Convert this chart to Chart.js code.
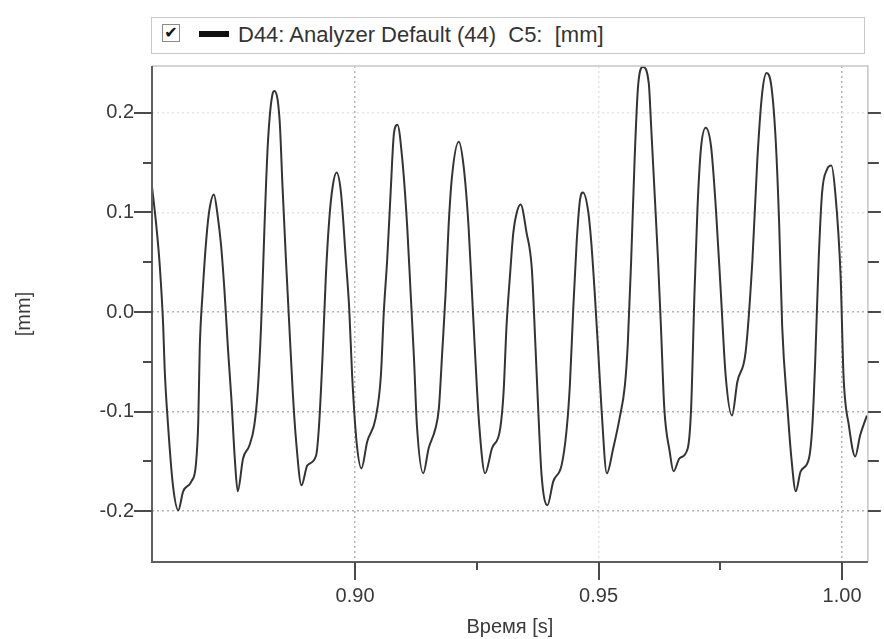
<!DOCTYPE html>
<html>
<head>
<meta charset="utf-8">
<title>D44: Analyzer Default (44) C5</title>
<script src="https://cdn.jsdelivr.net/npm/chart.js@4.4.1/dist/chart.umd.min.js"></script>
<style>
  html, body { margin: 0; padding: 0; background: #fff; }
  #wrap { position: relative; width: 884px; height: 639px; overflow: hidden; }
  #chart { position: absolute; left: 0; top: 0; }
  .legend-box {
    position: absolute; left: 151px; top: 17px; width: 712px; height: 35px;
    border: 1px solid #c9c9c9; background: #fff;
    font-family: "Liberation Sans", Arial, sans-serif; font-size: 22px; color: #333;
  }
  .legend-check {
    position: absolute; left: 10px; top: 6px; width: 16px; height: 16px;
    border: 1px solid #8a8a8a; background: #fff;
    font-family: "DejaVu Sans", sans-serif; font-size: 16px; font-weight: bold; line-height: 16px;
    text-align: center; color: #111;
  }
  .legend-swatch { position: absolute; left: 47px; top: 13px; width: 30px; height: 6px; background: #111; }
  .legend-text { position: absolute; left: 86px; top: 4px; white-space: pre; }
</style>
</head>
<body>
<div id="wrap">
  <canvas id="chart" width="884" height="639"></canvas>
  <div class="legend-box">
    <div class="legend-check">&#10004;</div>
    <div class="legend-swatch"></div>
    <div class="legend-text">D44: Analyzer Default (44)  C5:  [mm]</div>
  </div>
</div>
<script>
// Time axis [s] and displacement [mm]
const timeS = [
  0.8583, 0.8592, 0.8599, 0.8606, 0.8609, 0.8616, 0.8626, 0.8637, 0.8647, 0.8664,
  0.8673, 0.8678, 0.8681, 0.8687, 0.8695, 0.8701, 0.8710, 0.8718, 0.8725, 0.8732,
  0.8739, 0.8746, 0.8753, 0.8759, 0.8770, 0.8783, 0.8793, 0.8800, 0.8807, 0.8814,
  0.8821, 0.8831, 0.8834, 0.8845, 0.8851, 0.8858, 0.8865, 0.8872, 0.8879, 0.8890,
  0.8902, 0.8920, 0.8926, 0.8933, 0.8940, 0.8947, 0.8954, 0.8962, 0.8971, 0.8981,
  0.8988, 0.8994, 0.9003, 0.9013, 0.9025, 0.9042, 0.9053, 0.9059, 0.9066, 0.9073,
  0.9080, 0.9087, 0.9097, 0.9107, 0.9114, 0.9121, 0.9127, 0.9140, 0.9151, 0.9165,
  0.9172, 0.9179, 0.9186, 0.9192, 0.9199, 0.9213, 0.9223, 0.9233, 0.9240, 0.9247,
  0.9255, 0.9267, 0.9281, 0.9298, 0.9305, 0.9311, 0.9318, 0.9325, 0.9332, 0.9340,
  0.9352, 0.9363, 0.9370, 0.9376, 0.9383, 0.9395, 0.9407, 0.9424, 0.9434, 0.9441,
  0.9448, 0.9455, 0.9462, 0.9468, 0.9479, 0.9485, 0.9492, 0.9499, 0.9506, 0.9517,
  0.9530, 0.9543, 0.9554, 0.9560, 0.9567, 0.9574, 0.9581, 0.9591, 0.9603, 0.9608,
  0.9615, 0.9622, 0.9628, 0.9635, 0.9646, 0.9654, 0.9666, 0.9683, 0.9690, 0.9697,
  0.9703, 0.9710, 0.9720, 0.9731, 0.9741, 0.9751, 0.9761, 0.9774, 0.9785, 0.9802,
  0.9816, 0.9826, 0.9836, 0.9845, 0.9855, 0.9864, 0.9871, 0.9877, 0.9888, 0.9896,
  0.9905, 0.9915, 0.9932, 0.9939, 0.9945, 0.9952, 0.9959, 0.9969, 0.9978, 0.9986,
  0.9997, 1.0003, 1.0014, 1.0027, 1.0037, 1.0051
];
const valueMm = [
   0.126,  0.086,  0.046, -0.014, -0.057, -0.114, -0.174, -0.199, -0.180, -0.170,
  -0.154, -0.110, -0.037,  0.020,  0.076,  0.103,  0.118,  0.096,  0.066,  0.020,
  -0.037, -0.087, -0.147, -0.180, -0.147, -0.134, -0.114, -0.080, -0.014,  0.086,
   0.170,  0.220,  0.222,  0.193,  0.126,  0.053, -0.014, -0.080, -0.130, -0.174,
  -0.154, -0.144, -0.114, -0.047,  0.036,  0.093,  0.126,  0.140,  0.120,  0.053,
   0.003, -0.064, -0.130, -0.157, -0.130, -0.107, -0.064,  0.000,  0.053,  0.120,
   0.180,  0.188,  0.153,  0.086,  0.020, -0.047, -0.114, -0.162, -0.137, -0.117,
  -0.097, -0.040,  0.020,  0.086,  0.136,  0.171,  0.146,  0.086,  0.020, -0.047,
  -0.114, -0.162, -0.137, -0.117, -0.080, -0.014,  0.036,  0.080,  0.100,  0.108,
   0.080,  0.043, -0.030, -0.097, -0.164, -0.194, -0.170, -0.154, -0.120, -0.074,
   0.003,  0.070,  0.113,  0.120,  0.100,  0.070,  0.020, -0.037, -0.097, -0.162,
  -0.137, -0.107, -0.074, -0.032,  0.053,  0.153,  0.226,  0.246,  0.230,  0.186,
   0.120,  0.053, -0.014, -0.097, -0.140, -0.160, -0.147, -0.137, -0.097,  0.020,
   0.103,  0.163,  0.185,  0.166,  0.103,  0.020, -0.064, -0.104, -0.070, -0.040,
   0.053,  0.153,  0.220,  0.240,  0.226,  0.170,  0.086, -0.014, -0.097, -0.147,
  -0.180, -0.160, -0.147, -0.114, -0.047,  0.053,  0.120,  0.143,  0.147,  0.120,
   0.036, -0.064, -0.114, -0.145, -0.124, -0.104
];

// Axis ticks
const xMajorTicks = [0.90, 0.95, 1.00];
const xMinorTicks = [0.925, 0.975];
const yMajorTicks = [-0.2, -0.1, 0.0, 0.1, 0.2];
const yMinorTicks = [-0.15, -0.05, 0.05, 0.15];
const xRange = [0.8583, 1.0053];
const yRange = [-0.251, 0.247];

const FONT = '"Liberation Sans", Arial, sans-serif';
const TEXT = '#3a3a3a';

// Frame and outward tick marks drawn on the library's scales
const frameTicks = {
  id: 'frameTicks',
  afterDraw(chart) {
    const { ctx, chartArea: a, scales: { x, y } } = chart;
    ctx.save();
    ctx.lineCap = 'butt';
    // light top / right border
    ctx.strokeStyle = '#c6c6c6';
    ctx.lineWidth = 1.5;
    ctx.beginPath();
    ctx.moveTo(a.left, a.top);
    ctx.lineTo(a.right, a.top);
    ctx.lineTo(a.right, a.bottom);
    ctx.stroke();
    // dark left / bottom axes
    ctx.strokeStyle = '#5e5e5e';
    ctx.lineWidth = 2;
    ctx.beginPath();
    ctx.moveTo(a.left, a.top);
    ctx.lineTo(a.left, a.bottom);
    ctx.lineTo(a.right, a.bottom);
    ctx.stroke();

    ctx.lineWidth = 2;
    ctx.strokeStyle = '#4a4a4a';
    const tick = (x1, y1, x2, y2) => { ctx.beginPath(); ctx.moveTo(x1, y1); ctx.lineTo(x2, y2); ctx.stroke(); };
    yMajorTicks.forEach(v => {
      const py = Math.round(y.getPixelForValue(v));
      tick(a.left - 18, py, a.left, py);
      tick(a.right, py, a.right + 13, py);
    });
    yMinorTicks.forEach(v => {
      const py = Math.round(y.getPixelForValue(v));
      tick(a.left - 9, py, a.left, py);
      tick(a.right, py, a.right + 11, py);
    });
    xMajorTicks.forEach(v => {
      const px = Math.round(x.getPixelForValue(v));
      tick(px, a.bottom, px, a.bottom + 18);
    });
    xMinorTicks.forEach(v => {
      const px = Math.round(x.getPixelForValue(v));
      tick(px, a.bottom, px, a.bottom + 8);
    });
    ctx.restore();
  }
};

new Chart(document.getElementById('chart'), {
  type: 'line',
  data: {
    datasets: [{
      label: 'D44: Analyzer Default (44) C5: [mm]',
      data: timeS.map((t, i) => ({ x: t, y: valueMm[i] })),
      borderColor: '#343434',
      borderWidth: 2,
      pointRadius: 0,
      fill: false,
      cubicInterpolationMode: 'monotone'
    }]
  },
  options: {
    responsive: false,
    animation: false,
    layout: { padding: { top: 66, right: 13, left: 0, bottom: 0 } },
    plugins: {
      legend: { display: false },
      tooltip: { enabled: false }
    },
    scales: {
      x: {
        type: 'linear',
        min: xRange[0],
        max: xRange[1],
        afterBuildTicks: s => { s.ticks = xMajorTicks.map(v => ({ value: v })); },
        afterFit: s => { s.height = 77; },
        grid: {
          drawTicks: false,
          lineWidth: 1.5,
          color: c => (c.tick && Math.abs(c.tick.value - 0.95) < 1e-6) ? '#e2e2e2' : '#b4b4b4'
        },
        border: { display: false, dash: [2, 3] },
        ticks: {
          padding: 22,
          color: TEXT,
          font: { family: FONT, size: 20 },
          maxRotation: 0,
          callback: v => Number(v).toFixed(2)
        },
        title: {
          display: true,
          text: 'Время [s]',
          color: TEXT,
          font: { family: FONT, size: 20 },
          padding: { top: 0, bottom: 0 }
        }
      },
      y: {
        type: 'linear',
        min: yRange[0],
        max: yRange[1],
        afterBuildTicks: s => { s.ticks = yMajorTicks.map(v => ({ value: v })); },
        afterFit: s => { s.width = 152; },
        grid: {
          drawTicks: false,
          lineWidth: 1.5,
          color: c => (c.tick && c.tick.value > 0.05) ? '#e6e6e6' : '#b4b4b4'
        },
        border: { display: false, dash: [2, 3] },
        ticks: {
          padding: 18,
          color: TEXT,
          font: { family: FONT, size: 20 },
          callback: v => (Math.abs(v) < 1e-9 ? 0 : Number(v)).toFixed(1)
        },
        title: {
          display: true,
          text: '[mm]',
          color: TEXT,
          font: { family: FONT, size: 20 },
          padding: { top: 12, bottom: 0 }
        }
      }
    }
  },
  plugins: [frameTicks]
});
</script>
</body>
</html>
